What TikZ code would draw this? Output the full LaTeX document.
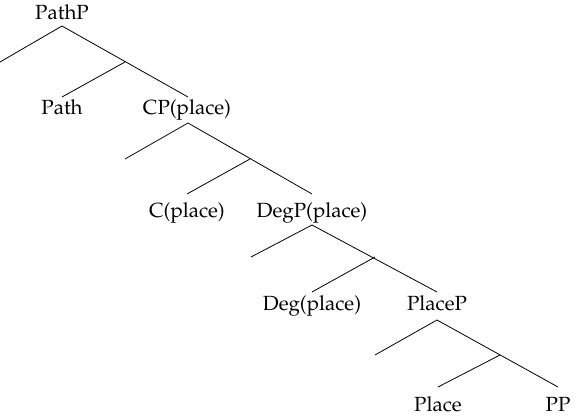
\documentclass[tikz,border=0pt]{standalone}
\usepackage[T1]{fontenc}
\usepackage{mathpazo}
\begin{document}
\begin{tikzpicture}[x=1pt,y=-1pt,
  lbl/.style={inner sep=0pt,anchor=base,font=\fontsize{20.5}{23}\selectfont},
  br/.style={line width=0.8pt,black}]
\useasboundingbox (0,0) rectangle (575,417);
% labels
\node[lbl] (pathp) at (62,20) {PathP};
\node[lbl] (path) at (62,115) {Path};
\node[lbl] (cp) at (187,115) {CP(place)};
\node[lbl] (c) at (187,217) {C(place)};
\node[lbl] (degp) at (312,217) {DegP(place)};
\node[lbl] (deg) at (312,310) {Deg(place)};
\node[lbl] (placep) at (437,310) {PlaceP};
\node[lbl] (place) at (438,411) {Place};
\node[lbl] (pp) at (558,411) {PP};
% coordinates
\coordinate (a1) at (62,26);
\coordinate (l1) at (0,62);
\coordinate (j1) at (125,62);
\coordinate (t1a) at (62,97);
\coordinate (t1b) at (188,97);
\coordinate (a2) at (188,123);
\coordinate (l2) at (125,159);
\coordinate (j2) at (250,159);
\coordinate (t2a) at (187,194);
\coordinate (t2b) at (312,194);
\coordinate (a3) at (312,225);
\coordinate (l3) at (251,257);
\coordinate (j3) at (375,257);
\coordinate (t3a) at (312,292);
\coordinate (t3b) at (437,292);
\coordinate (a4) at (437,320);
\coordinate (l4) at (375,355);
\coordinate (j4) at (500,355);
\coordinate (t4a) at (438,387);
\coordinate (t4b) at (558,387);
% branches
\draw[br] (l1) -- (a1) -- (t1b);
\draw[br] (j1) -- (t1a);
\draw[br] (l2) -- (a2) -- (t2b);
\draw[br] (j2) -- (t2a);
\draw[br] (l3) -- (a3) -- (t3b);
\draw[br] (j3) -- (t3a);
\draw[br] (l4) -- (a4) -- (t4b);
\draw[br] (j4) -- (t4a);
\end{tikzpicture}
\end{document}
